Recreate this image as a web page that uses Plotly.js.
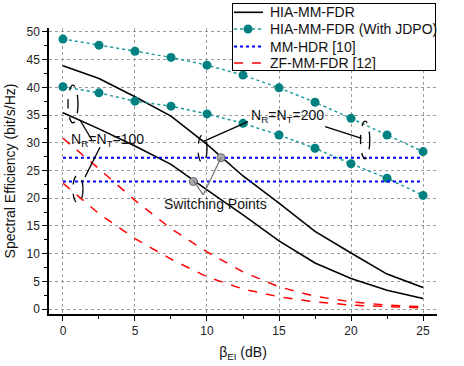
<!DOCTYPE html>
<html>
<head>
<meta charset="utf-8">
<script src="https://cdn.plot.ly/plotly-3.0.1.min.js"></script>
<style>
  body { margin: 0; background: #fff; }
  #plotArea { width: 464px; height: 366px; }
</style>
</head>
<body>
<div id="plotArea"></div>
<script>
var beta = [0, 2.5, 5, 7.5, 10, 12.5, 15, 17.5, 20, 22.5, 25];

// HIA-MM-FDR, N=200 and N=100
var hia200 = [43.9, 41.6, 38.3, 34.8, 29.7, 24.0, 19.1, 14.0, 10.1, 6.3, 3.9];
var hia100 = [35.4, 32.5, 29.4, 26.1, 21.5, 17.0, 12.3, 8.3, 5.5, 3.4, 1.9];

// HIA-MM-FDR with JDPO
var jdpo200 = [48.7, 47.6, 46.5, 45.4, 44.0, 42.2, 39.9, 37.3, 34.4, 31.4, 28.4];
var jdpo100 = [40.1, 39.0, 37.5, 36.6, 35.2, 33.5, 31.4, 29.0, 26.2, 23.6, 20.5];

// MM-HDR [10]
var hdrX = [0, 25];
var hdr200 = [27.3, 27.3];
var hdr100 = [23.0, 23.0];

// ZF-MM-FDR [12]
var zf200 = [30.8, 25.3, 19.6, 14.5, 10.3, 6.7, 4.0, 2.3, 1.3, 0.7, 0.4];
var zf100 = [22.7, 17.2, 12.7, 9.0, 5.8, 3.6, 2.2, 1.3, 0.7, 0.4, 0.2];

// switching points
var switchX = [9.05, 10.97];
var switchY = [23.0, 27.3];

var seriesNames = ["HIA-MM-FDR", "HIA-MM-FDR (With JDPO)", "MM-HDR [10]", "ZF-MM-FDR [12]"];

var black = {color: "#000", width: 1.6};
var teal = {color: "#1f9a9a", width: 1.5, dash: "dot"};
var blue = {color: "#0000ff", width: 2, dash: "dot"};
var red = {color: "#ff0000", width: 1.5, dash: "dash"};
var tealDot = {color: "#008080", size: 9};

var data = [
    {x: beta, y: hia200, mode: "lines", type: "scatter", line: black, name: seriesNames[0]},
    {x: beta, y: hia100, mode: "lines", type: "scatter", line: black, name: seriesNames[0]},
    {x: beta, y: jdpo200, mode: "lines+markers", type: "scatter", line: teal, marker: tealDot, name: seriesNames[1]},
    {x: beta, y: jdpo100, mode: "lines+markers", type: "scatter", line: teal, marker: tealDot, name: seriesNames[1]},
    {x: hdrX, y: hdr200, mode: "lines", type: "scatter", line: blue, name: seriesNames[2]},
    {x: hdrX, y: hdr100, mode: "lines", type: "scatter", line: blue, name: seriesNames[2]},
    {x: beta, y: zf200, mode: "lines", type: "scatter", line: red, name: seriesNames[3]},
    {x: beta, y: zf100, mode: "lines", type: "scatter", line: red, name: seriesNames[3]},
    {x: switchX, y: switchY, mode: "markers", type: "scatter", name: "Switching Points",
     marker: {color: "#aaa", size: 8, line: {color: "#666", width: 1}}}
];

var txt = {family: "Liberation Sans, Arial, sans-serif", size: 14, color: "#111"};

function ell(x0, x1, y0, y1) {
    return {type: "circle", xref: "x", yref: "y", x0: x0, x1: x1, y0: y0, y1: y1,
            line: {color: "#000", width: 1.3, dash: "dash"}};
}
function seg(x0, y0, x1, y1, c) {
    return {type: "line", xref: "x", yref: "y", x0: x0, y0: y0, x1: x1, y1: y1,
            line: {color: c || "#000", width: 1.3}};
}

var shapes = [
    // white legend background, in data units so it sits over the traces
    {type: "rect", xref: "x", yref: "y", x0: 11.74, x1: 25.9, y0: 42.96, y1: 60,
     fillcolor: "#fff", line: {width: 0}},
    ell(0.35, 1.04, 33.6, 40.4),
    ell(0.69, 1.39, 19.1, 24.2),
    ell(9.38, 10.0, 26.35, 31.4),
    ell(20.66, 21.3, 27.1, 33.9),
    seg(1.18, 34.1, 2.01, 30.5),
    seg(1.53, 23.8, 2.57, 29.2),
    seg(12.85, 33.8, 9.72, 30.2),
    seg(18.2, 32.9, 20.74, 30.8),
    seg(9.74, 20.6, 9.05, 23.2, "#777"),
    seg(9.74, 20.6, 10.97, 27.3, "#777")
];

var annotations = [
    // legend border
    {x: 0.7345, y: 0.9685, xref: "paper", yref: "paper", xanchor: "center", yanchor: "middle",
     showarrow: false, text: " ", width: 202, height: 66, borderpad: 0,
     bordercolor: "#000", borderwidth: 1},
    {x: 3.1, y: 30.5, xref: "x", yref: "y", showarrow: false,
     text: "N<sub>R</sub>=N<sub>T</sub>=100", font: txt},
    {x: 15.6, y: 34.8, xref: "x", yref: "y", showarrow: false,
     text: "N<sub>R</sub>=N<sub>T</sub>=200", font: txt},
    {x: 10.6, y: 19.0, xref: "x", yref: "y", showarrow: false,
     text: "Switching Points", font: txt}
];

// hand-made legend (plotly's own rows are too tall)
var rowY = [1.0549, 0.9965, 0.9353, 0.8776];
var rowLine = [black, teal, blue, red];
seriesNames.forEach(function (nm, i) {
    shapes.push({type: "line", xref: "paper", yref: "paper", x0: 0.4768, x1: 0.5515,
                 y0: rowY[i], y1: rowY[i], line: rowLine[i]});
    annotations.push({x: 0.5644, y: rowY[i], xref: "paper", yref: "paper",
                      xanchor: "left", yanchor: "middle",
                      showarrow: false, text: nm, font: {family: txt.family, size: 14, color: "#111"}});
});
shapes.push({type: "circle", xref: "paper", yref: "paper", xsizemode: "pixel", ysizemode: "pixel",
             xanchor: 0.5129, yanchor: rowY[1], x0: -4.5, x1: 4.5, y0: -4.5, y1: 4.5,
             fillcolor: "#008080", line: {color: "#008080", width: 0}});

var layout = {
    width: 464,
    height: 366,
    margin: {l: 49, r: 27, t: 28, b: 52},
    paper_bgcolor: "#fff",
    plot_bgcolor: "#fff",
    font: {family: "Liberation Sans, Arial, sans-serif", size: 12, color: "#222"},
    showlegend: false,
    xaxis: {
        range: [-0.97, 25.97],
        tickvals: [0, 5, 10, 15, 20, 25],
        ticks: "outside", ticklen: 5, tickcolor: "#000",
        minor: {dtick: 2.5, ticks: "outside", ticklen: 3, tickcolor: "#000", showgrid: false},
        showgrid: true, gridcolor: "#999", griddash: "dot", gridwidth: 1,
        showline: true, linecolor: "#000", linewidth: 1.5,
        zeroline: false,
        title: {text: "β<sub>EI</sub> (dB)", font: txt, standoff: 10}
    },
    yaxis: {
        range: [-0.9, 50.7],
        tickvals: [0, 5, 10, 15, 20, 25, 30, 35, 40, 45, 50],
        ticks: "outside", ticklen: 5, tickcolor: "#000",
        minor: {dtick: 2.5, ticks: "outside", ticklen: 3, tickcolor: "#000", showgrid: false},
        showgrid: true, gridcolor: "#999", griddash: "dot", gridwidth: 1,
        showline: true, linecolor: "#000", linewidth: 1.5,
        zeroline: false,
        title: {text: "Spectral Efficiency (bit/s/Hz)", font: txt, standoff: 8}
    },
    shapes: shapes,
    annotations: annotations
};

Plotly.newPlot("plotArea", data, layout, {displayModeBar: false});
</script>
</body>
</html>
